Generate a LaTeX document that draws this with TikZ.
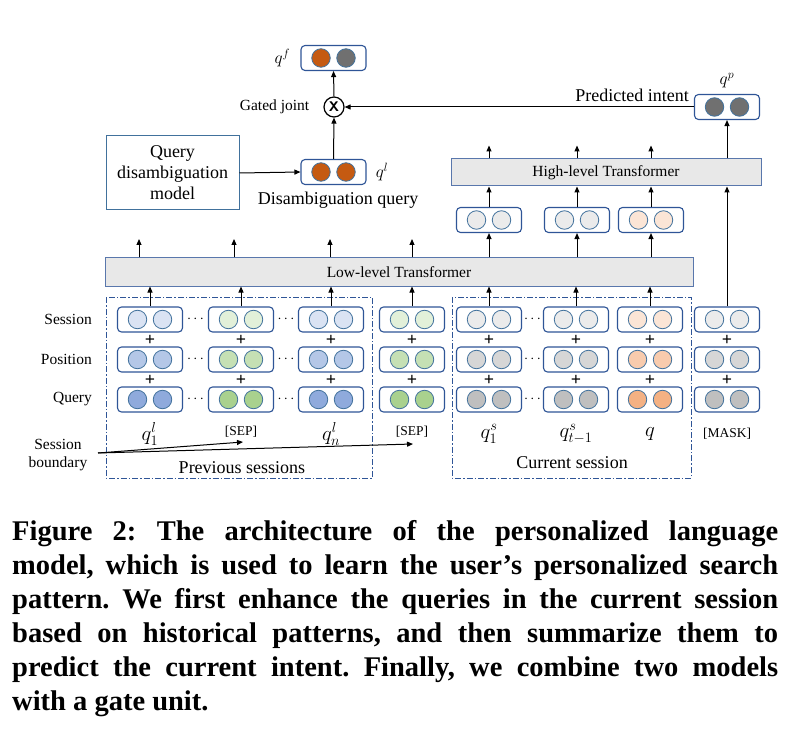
\documentclass[tikz,border=0pt]{standalone}
\usepackage{fontspec}
\setmainfont{Liberation Serif}
\usetikzlibrary{positioning, calc, arrows.meta}

\definecolor{boxblue}{HTML}{2F5597}
\definecolor{circblue}{HTML}{41719C}
\definecolor{transgray}{HTML}{E8E8E8}
\definecolor{blueS}{HTML}{DAE3F3}
\definecolor{blueP}{HTML}{B4C7E7}
\definecolor{blueQ}{HTML}{8FAADC}
\definecolor{greenS}{HTML}{E2F0D9}
\definecolor{greenP}{HTML}{C5E0B4}
\definecolor{greenQ}{HTML}{A9D18E}
\definecolor{grayS}{HTML}{EBEBEB}
\definecolor{grayP}{HTML}{D6D6D6}
\definecolor{grayQ}{HTML}{BFBFBF}
\definecolor{orangeS}{HTML}{FBE5D6}
\definecolor{orangeP}{HTML}{F8CBAD}
\definecolor{orangeQ}{HTML}{F4B183}
\definecolor{rust}{HTML}{C55A11}
\definecolor{darkdot}{HTML}{707070}

% two-circle vector box: name, position, fill of left and right circle
\newcommand{\embbox}[4]{%
  \node[vec] (#1) at (#2) {};
  \node[dot, fill=#3] (#1a) at ($(#1)+(-12.5,0)$) {};
  \node[dot, fill=#4] (#1b) at ($(#1)+(12.5,0)$) {};
}

\begin{document}
\begin{tikzpicture}[x=1pt, y=-1pt,
  vec/.style={draw=boxblue, line width=1.1pt, rounded corners=4pt, fill=white,
              minimum width=65pt, minimum height=25pt, inner sep=0pt},
  dot/.style={circle, draw=circblue, line width=0.8pt, minimum size=18.5pt, inner sep=0pt},
  trans/.style={draw=boxblue!80, line width=1pt, fill=transgray, inner sep=0pt,
                font=\fontsize{15.5}{18}\selectfont},
  lab/.style={font=\fontsize{18}{21}\selectfont, inner sep=0pt},
  mlab/.style={font=\fontsize{21}{24}\selectfont, inner sep=0pt},
  small/.style={font=\fontsize{15.5}{18.5}\selectfont, inner sep=0pt},
  tok/.style={font=\fontsize{13.5}{16}\selectfont, inner sep=0pt},
  plus/.style={font=\fontsize{18}{18}\bfseries\selectfont, inner sep=0pt},
  arr/.style={-{Triangle[length=6pt,width=5pt]}, line width=1pt},
  sess/.style={draw=boxblue, line width=0.8pt, dash pattern=on 6pt off 2pt on 1.5pt off 2pt},
]
\useasboundingbox (0,0) rectangle (798,738);

% session frames
\draw[sess] (106,297) rectangle (372,478);
\draw[sess] (452,297) rectangle (691,478);

% embedding columns
\foreach \name/\x/\cs/\cp/\cq in {c1/150/blueS/blueP/blueQ, c2/241/greenS/greenP/greenQ,
    c3/331/blueS/blueP/blueQ, c4/412/greenS/greenP/greenQ, c5/489/grayS/grayP/grayQ,
    c6/576/grayS/grayP/grayQ, c7/650/orangeS/orangeP/orangeQ, c8/727/grayS/grayP/grayQ} {
  \embbox{\name s}{\x,319.5}{\cs}{\cs}
  \embbox{\name p}{\x,359.5}{\cp}{\cp}
  \embbox{\name q}{\x,399.5}{\cq}{\cq}
  \node[plus] (\name pl1) at (\x,340) {+};
  \node[plus] (\name pl2) at (\x,380) {+};
}
\foreach \r in {s,p,q} {
  \node[tok] (d1\r) at ($(c1\r.east)!0.5!(c2\r.west)$) {$\cdots$};
  \node[tok] (d2\r) at ($(c2\r.east)!0.5!(c3\r.west)$) {$\cdots$};
  \node[tok] (d3\r) at ($(c5\r.east)!0.5!(c6\r.west)$) {$\cdots$};
}

% row labels
\node[small, anchor=east] (rs) at (92,319.5) {Session};
\node[small, anchor=east] (rp) at (92,359.5) {Position};
\node[small, anchor=east] (rq) at (92,399.5) {Query};

% token labels
\node[mlab] (t1) at (150,434) {$q_1^l$};
\node[tok] (t2) at (241,432) {[SEP]};
\node[mlab] (t3) at (331,434) {$q_n^l$};
\node[tok] (t4) at (412,432) {[SEP]};
\node[mlab] (t5) at (489,434) {$q_1^s$};
\node[mlab] (t6) at (576,434) {$q_{t-1}^s$};
\node[mlab] (t7) at (650,434) {$q$};
\node[tok] (t8) at (727,434) {[MASK]};

\node[small, align=center] (bnd) at (58,455) {Session\\boundary};
\coordinate (b0) at (98,453);
\coordinate (b1) at (243,442);
\coordinate (b2) at (413,444);
\draw[arr] (b0) -- (b1);
\draw[arr] (b0) -- (b2);
\node[lab] (prev) at (242,468) {Previous sessions};
\node[lab] (cur) at (572,463) {Current session};

% transformers
\node[trans, minimum width=588pt, minimum height=28pt] (llt) at (399,272) {Low-level Transformer};
\node[trans, minimum width=310pt, minimum height=27pt] (hlt) at (606,172.5) {High-level Transformer};

\foreach \c in {c1,c2,c3,c4,c5,c6,c7}
  \draw[arr] (\c s.north) -- (\c s.north |- llt.south);
\foreach \x [count=\i] in {139,234,330,412} {
  \coordinate (o\i) at (\x,239);
  \draw[arr] (o\i |- llt.north) -- (o\i);
}

% session summaries
\embbox{m1}{489,220}{grayS}{grayS}
\embbox{m2}{577,220}{grayS}{grayS}
\embbox{m3}{651,220}{orangeS}{orangeS}
\foreach \m [count=\i] in {m1,m2,m3} {
  \draw[arr] (\m |- llt.north) -- (\m.south);
  \draw[arr] (\m.north) -- (\m |- hlt.south);
  \coordinate (h\i) at ($(\m |- hlt.north)+(0,-13)$);
  \draw[arr] (\m |- hlt.north) -- (h\i);
}
\draw[arr] (c8s.north) -- (c8s.north |- hlt.south);

% predicted intent
\embbox{qp}{727,107}{darkdot}{darkdot}
\node[lab, above=6pt of qp] (qpl) {$q^p$};
\draw[arr] (qp |- hlt.north) -- (qp.south);

% disambiguation branch
\node[draw=circblue, line width=1pt, minimum width=133pt, minimum height=74pt,
      align=center, lab] (qdm) at (172.5,173) {Query\\disambiguation\\model};
\embbox{ql}{333.5,172}{rust}{rust}
\node[lab, right=9pt of ql] (qll) {$q^l$};
\node[lab] (dq) at (338,200) {Disambiguation query};
\draw[arr] (qdm.east) -- (ql.west);

% gate
\node[circle, draw, line width=1.2pt, minimum size=20pt, inner sep=0pt,
      font=\fontsize{14}{14}\sffamily\bfseries\selectfont] (gate) at (334,107) {X};
\node[small, left=14pt of gate] (gj) {Gated joint};
\embbox{qf}{333.5,58}{rust}{darkdot}
\node[lab, left=10pt of qf] (qfl) {$q^f$};
\draw[arr] (ql.north) -- (gate.south);
\draw[arr] (gate.north) -- (qf.south);
\draw[arr] (qp.west) -- (gate.east);
\node[lab, anchor=south east] (pi) at (689,102) {Predicted intent};

% caption
\node[anchor=north west, inner sep=0pt, text width=766pt, align=justify,
      font=\fontsize{28.5}{34}\bfseries\selectfont] (cap) at (12,520)
  {\frenchspacing Figure 2: The architecture of the personalized language\linebreak
   model, which is used to learn the user’s personalized search\linebreak
   pattern. We first enhance the queries in the current session\linebreak
   based on historical patterns, and then summarize them to\linebreak
   predict the current intent. Finally, we combine two models\linebreak
   with a gate unit.};
\end{tikzpicture}
\end{document}
